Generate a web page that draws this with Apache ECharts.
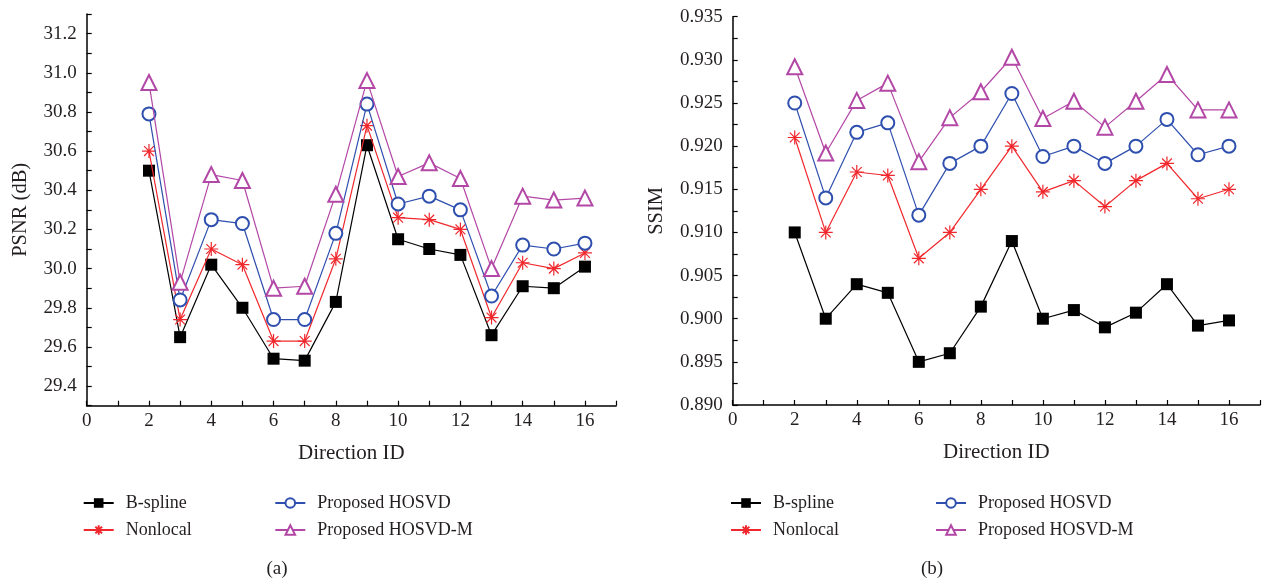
<!DOCTYPE html>
<html>
<head>
<meta charset="utf-8">
<script src="https://cdn.jsdelivr.net/npm/echarts@6/dist/echarts.min.js"></script>
<style>
html,body{margin:0;padding:0;background:#fff;}
#chart{width:1263px;height:582px;}
</style>
</head>
<body>
<div id="chart"></div>
<script>
// ---- data ----
const directionIds = [2, 3, 4, 5, 6, 7, 8, 9, 10, 11, 12, 13, 14, 15, 16];
const seriesNames = ['B-spline', 'Nonlocal', 'Proposed HOSVD', 'Proposed HOSVD-M'];

const psnrBspline = [30.50, 29.65, 30.02, 29.80, 29.54, 29.53, 29.83, 30.63, 30.15, 30.10, 30.07, 29.66, 29.91, 29.90, 30.01];
const psnrNonlocal = [30.60, 29.74, 30.10, 30.02, 29.63, 29.63, 30.05, 30.73, 30.26, 30.25, 30.20, 29.75, 30.03, 30.00, 30.08];
const psnrHosvd = [30.79, 29.84, 30.25, 30.23, 29.74, 29.74, 30.18, 30.84, 30.33, 30.37, 30.30, 29.86, 30.12, 30.10, 30.13];
const psnrHosvdM = [30.95, 29.93, 30.48, 30.45, 29.90, 29.91, 30.38, 30.96, 30.47, 30.54, 30.46, 30.00, 30.37, 30.35, 30.36];

const ssimBspline = [0.9100, 0.9000, 0.9040, 0.9030, 0.8950, 0.8960, 0.9014, 0.9090, 0.9000, 0.9010, 0.8990, 0.9007, 0.9040, 0.8992, 0.8998];
const ssimNonlocal = [0.9210, 0.9100, 0.9170, 0.9166, 0.9070, 0.9100, 0.9150, 0.9200, 0.9147, 0.9160, 0.9130, 0.9160, 0.9180, 0.9139, 0.9150];
const ssimHosvd = [0.9250, 0.9140, 0.9216, 0.9227, 0.9120, 0.9180, 0.9200, 0.9261, 0.9188, 0.9200, 0.9180, 0.9200, 0.9231, 0.9190, 0.9200];
const ssimHosvdM = [0.9292, 0.9192, 0.9253, 0.9273, 0.9182, 0.9233, 0.9263, 0.9303, 0.9232, 0.9252, 0.9222, 0.9252, 0.9283, 0.9242, 0.9242];

// ---- styles ----
const FONT = '"Liberation Serif", "DejaVu Serif", serif';
const TXT = '#231f20';
const colors = ['#000000', '#f0282d', '#2e4fae', '#b347a6'];
const asterisk = 'path://M10,0L10,20M0,10L20,10M3,3L17,17M3,17L17,3M8.6,10a1.4,1.4 0 1,0 2.8,0a1.4,1.4 0 1,0 -2.8,0';
const symbols = ['rect', asterisk, 'emptyCircle', 'emptyTriangle'];
const symbolSizes = [12, 14, 13, 15];
const borderWidths = [0, 1.2, 1.0, 1.0];

function mkSeries(name, idx, vals, axisIdx) {
  return {
    name: name,
    type: 'line',
    xAxisIndex: axisIdx,
    yAxisIndex: axisIdx,
    data: directionIds.map((d, i) => [d, vals[i]]),
    symbol: symbols[idx],
    symbolSize: symbolSizes[idx],
    showAllSymbol: true,
    clip: false,
    lineStyle: { color: colors[idx], width: 1.2 },
    itemStyle: {
      color: colors[idx],
      borderColor: colors[idx],
      borderWidth: borderWidths[idx]
    },
    emphasis: { disabled: true },
    animation: false,
    z: 2 + idx
  };
}

const xAxisCommon = {
  type: 'value', min: 0, max: 17, interval: 1,
  axisLine: { show: true, onZero: false, lineStyle: { color: '#000', width: 1.5 } },
  axisTick: { show: true, inside: true, length: 5, lineStyle: { color: '#000', width: 1.2 } },
  axisLabel: { fontFamily: FONT, fontSize: 19, color: TXT, margin: 6,
    formatter: v => (Math.round(v) % 2 === 0 ? String(Math.round(v)) : '') },
  splitLine: { show: false },
  name: 'Direction ID', nameLocation: 'middle', nameGap: 37,
  nameTextStyle: { fontFamily: FONT, fontSize: 21, color: TXT }
};

function legendItem(name, left, top) {
  return {
    data: [name], left: left, top: top, padding: 0,
    itemWidth: 30, itemHeight: 12, selectedMode: false,
    textStyle: { fontFamily: FONT, fontSize: 18, color: TXT, padding: [0, 0, 0, 7], lineHeight: 20 }
  };
}

const option = {
  animation: false,
  backgroundColor: '#ffffff',
  grid: [
    { left: 86.7, top: 14, width: 529.4, height: 391.7 },
    { left: 732.7, top: 16.7, width: 529.4, height: 388.3 }
  ],
  xAxis: [
    Object.assign({}, xAxisCommon, { gridIndex: 0 }),
    Object.assign({}, xAxisCommon, { gridIndex: 1 })
  ],
  yAxis: [
    {
      gridIndex: 0, type: 'value', min: 29.3, max: 31.3, interval: 0.1,
      axisLine: { show: true, onZero: false, lineStyle: { color: '#000', width: 1.5 } },
      axisTick: { show: true, inside: true, length: 5, lineStyle: { color: '#000', width: 1.2 } },
      axisLabel: { fontFamily: FONT, fontSize: 19, color: TXT, margin: 10,
        formatter: v => (Math.round(v * 10) % 2 === 0 ? v.toFixed(1) : '') },
      splitLine: { show: false },
      name: 'PSNR (dB)', nameLocation: 'middle', nameGap: 56,
      nameTextStyle: { fontFamily: FONT, fontSize: 20.5, color: TXT }
    },
    {
      gridIndex: 1, type: 'value', min: 0.890, max: 0.935, interval: 0.0025,
      axisLine: { show: true, onZero: false, lineStyle: { color: '#000', width: 1.5 } },
      axisTick: { show: true, inside: true, length: 5, lineStyle: { color: '#000', width: 1.2 } },
      axisLabel: { fontFamily: FONT, fontSize: 19, color: TXT, margin: 10,
        formatter: v => (Math.round(v * 10000) % 50 === 0 ? v.toFixed(3) : '') },
      splitLine: { show: false },
      name: 'SSIM', nameLocation: 'middle', nameGap: 66,
      nameTextStyle: { fontFamily: FONT, fontSize: 20.5, color: TXT }
    }
  ],
  legend: [
    legendItem(seriesNames[0], 82.7, 493),
    legendItem(seriesNames[1], 82.7, 520),
    legendItem(seriesNames[2], 274.3, 493),
    legendItem(seriesNames[3], 274.3, 520),
    legendItem(seriesNames[0], 730, 493),
    legendItem(seriesNames[1], 730, 520),
    legendItem(seriesNames[2], 935, 493),
    legendItem(seriesNames[3], 935, 520)
  ],
  graphic: [
    { type: 'text', x: 277, y: 569, style: { text: '(a)', font: '19px ' + FONT, fill: TXT, textAlign: 'center', textVerticalAlign: 'middle' } },
    { type: 'text', x: 932, y: 569, style: { text: '(b)', font: '19px ' + FONT, fill: TXT, textAlign: 'center', textVerticalAlign: 'middle' } }
  ],
  series: [
    mkSeries(seriesNames[0], 0, psnrBspline, 0),
    mkSeries(seriesNames[1], 1, psnrNonlocal, 0),
    mkSeries(seriesNames[2], 2, psnrHosvd, 0),
    mkSeries(seriesNames[3], 3, psnrHosvdM, 0),
    mkSeries(seriesNames[0], 0, ssimBspline, 1),
    mkSeries(seriesNames[1], 1, ssimNonlocal, 1),
    mkSeries(seriesNames[2], 2, ssimHosvd, 1),
    mkSeries(seriesNames[3], 3, ssimHosvdM, 1)
  ]
};

const chart = echarts.init(document.getElementById('chart'), null, { renderer: 'canvas' });
chart.setOption(option);
</script>
</body>
</html>
